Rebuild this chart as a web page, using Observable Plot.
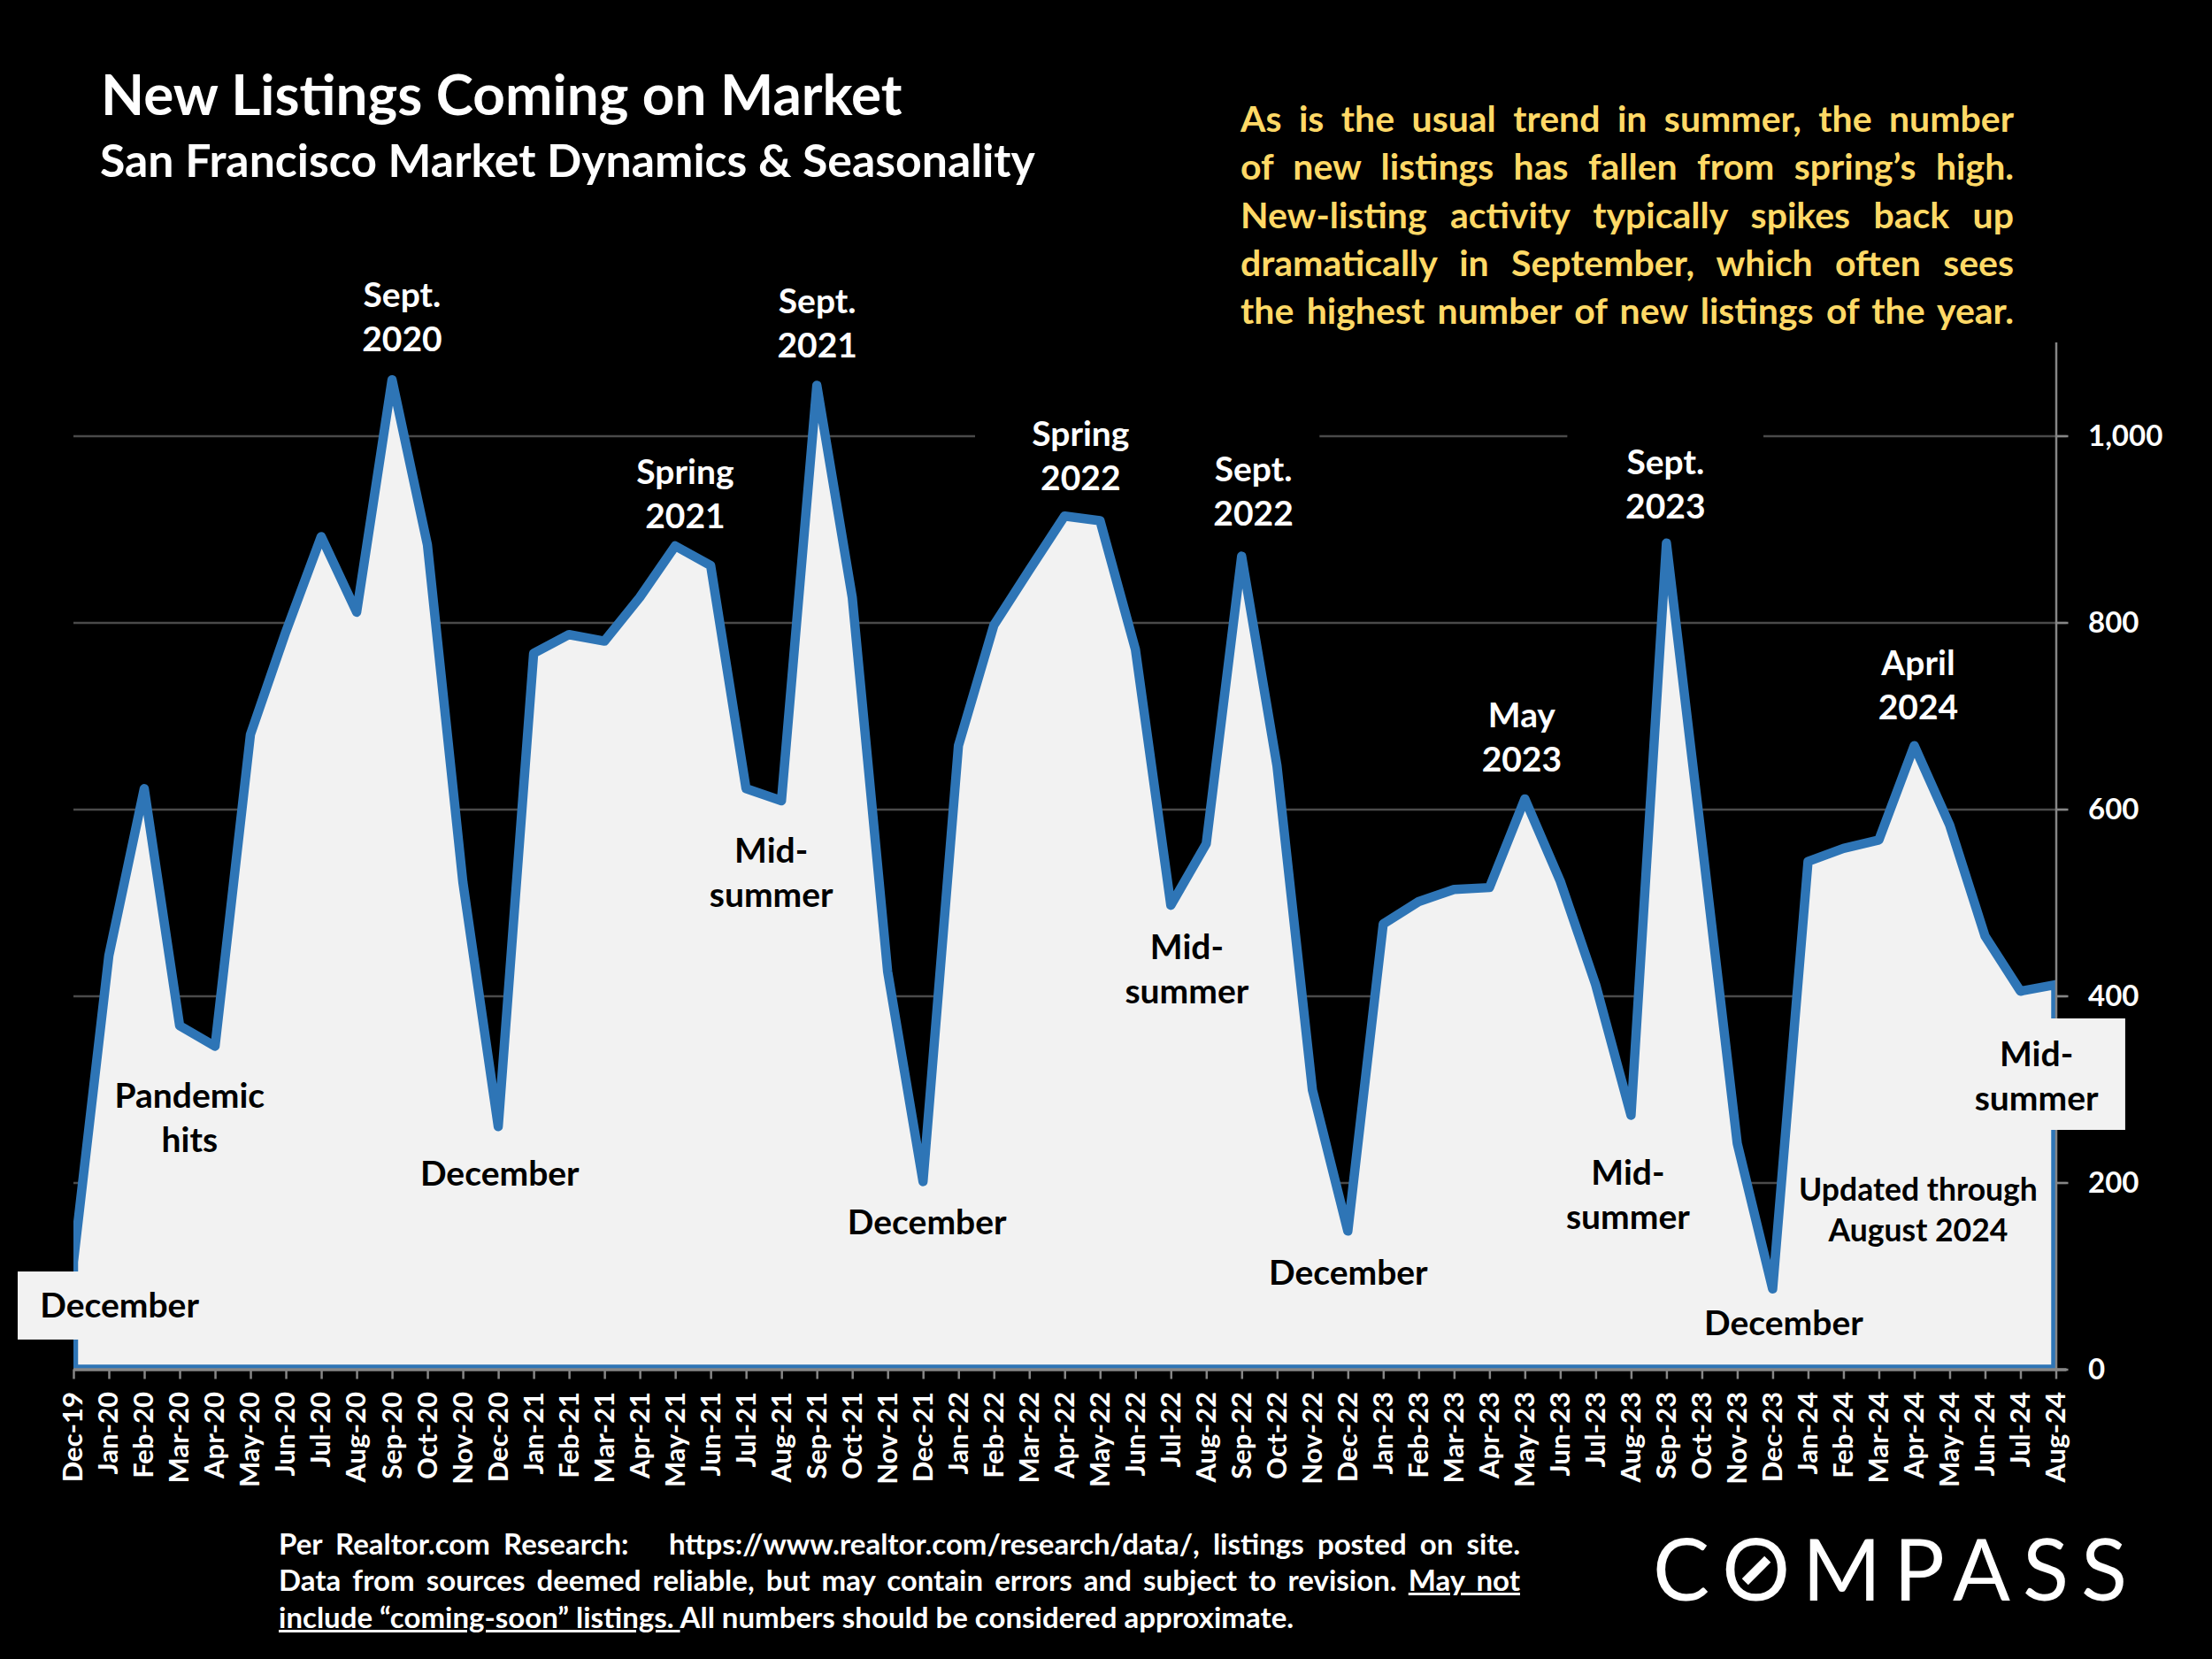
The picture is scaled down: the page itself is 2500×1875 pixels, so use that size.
<!DOCTYPE html>
<html>
<head>
<meta charset="utf-8">
<script src="https://cdn.jsdelivr.net/npm/d3@7"></script>
<script src="https://cdn.jsdelivr.net/npm/@observablehq/plot@0.6"></script>
<style>
  html, body { margin: 0; background: #000; }
  body { position: relative; width: 2500px; height: 1875px; overflow: hidden; font-family: Lato, sans-serif; font-weight: 700; color: #fff; }
  #chart { position: absolute; left: 0; top: 0; }
  .title { position: absolute; left: 114px; top: 68px; font-size: 63.8px; line-height: 76px; white-space: nowrap; }
  .subtitle { position: absolute; left: 113px; top: 149px; font-size: 51.8px; line-height: 62px; white-space: nowrap; }
  .note { position: absolute; left: 1402px; top: 107px; width: 874px; color: #ffd966; font-size: 41px; line-height: 54.3px; }
  .note div, .source div { text-align: justify; text-align-last: justify; }
  .source { position: absolute; left: 315px; top: 1724px; width: 1403px; font-size: 33px; line-height: 41.3px; }
  .source div.last { text-align-last: left; }
  .logo { position: absolute; left: 1868px; top: 1710px; font-size: 96px; line-height: 124px; font-weight: 400; letter-spacing: 14px; white-space: nowrap; }
  .logo .o { position: relative; display: inline-block; }
  .logo .o i { position: absolute; left: 50%; top: 50%; width: 36px; height: 10px; margin: -2px 0 0 -25px; background: #fff; transform: rotate(-45deg); }
</style>
</head>
<body>
<div id="chart"></div>
<div class="title">New Listings Coming on Market</div>
<div class="subtitle">San Francisco Market Dynamics &amp; Seasonality</div>
<div class="note">
  <div>As is the usual trend in summer, the number</div>
  <div>of new listings has fallen from spring’s high.</div>
  <div>New-listing activity typically spikes back up</div>
  <div>dramatically in September, which often sees</div>
  <div>the highest number of new listings of the year.</div>
</div>
<div class="source">
  <div>Per Realtor.com Research: &nbsp; https://www.realtor.com/research/data/, listings posted on site.</div>
  <div>Data from sources deemed reliable, but may contain errors and subject to revision. <u>May not</u></div>
  <div class="last"><u>include “coming-soon” listings. </u>All numbers should be considered approximate.</div>
</div>
<div class="logo">C<span class="o">O<i></i></span>MPASS</div>

<script>
const months = [
  "Dec-19",
  "Jan-20", "Feb-20", "Mar-20", "Apr-20", "May-20", "Jun-20", "Jul-20", "Aug-20", "Sep-20", "Oct-20", "Nov-20", "Dec-20",
  "Jan-21", "Feb-21", "Mar-21", "Apr-21", "May-21", "Jun-21", "Jul-21", "Aug-21", "Sep-21", "Oct-21", "Nov-21", "Dec-21",
  "Jan-22", "Feb-22", "Mar-22", "Apr-22", "May-22", "Jun-22", "Jul-22", "Aug-22", "Sep-22", "Oct-22", "Nov-22", "Dec-22",
  "Jan-23", "Feb-23", "Mar-23", "Apr-23", "May-23", "Jun-23", "Jul-23", "Aug-23", "Sep-23", "Oct-23", "Nov-23", "Dec-23",
  "Jan-24", "Feb-24", "Mar-24", "Apr-24", "May-24", "Jun-24", "Jul-24", "Aug-24"
];

const newListings = [
  115,
  443, 622, 368, 346, 680, 790, 892, 811, 1060, 883, 522, 260,
  767, 787, 780, 827, 882, 861, 622, 609, 1054, 827, 426, 201,
  668, 797, 856, 914, 909, 771, 497, 563, 871, 646, 299, 148,
  477, 501, 514, 516, 611, 523, 412, 272, 885, 566, 242, 86,
  544, 558, 567, 668, 583, 464, 405, 412
];

const yTicks = [0, 200, 400, 600, 800, 1000];

// labels over the black background, month index and value of the middle of the text
const peakText = ["Sept.\n2020", "Spring\n2021", "Sept.\n2021", "Spring\n2022", "Sept.\n2022", "May\n2023", "Sept.\n2023", "April\n2024"];
const peakMonth = [9.27, 17.27, 21, 28.44, 33.32, 40.9, 44.96, 52.1];
const peakValue = [1128, 938, 1121, 979, 941, 678, 949, 734];

// labels over the light area
const lowText = ["December", "Pandemic\nhits", "December", "Mid-\nsummer", "December", "Mid-\nsummer", "December", "Mid-\nsummer", "December", "Mid-\nsummer"];
const lowMonth = [1.29, 3.27, 12.03, 19.7, 24.1, 31.44, 36, 43.9, 48.3, 55.44];
const lowValue = [69, 270, 210, 533, 158, 429, 104, 188, 50, 315];

const updatedText = ["Updated through\nAugust 2024"];
const updatedMonth = [52.1];
const updatedValue = [171];

// the 1,000 gridline is interrupted by the label boxes
const topGridFrom = [0, 35.2, 47.74];
const topGridTo = [25.47, 42.2, 56.3];

// light boxes that stick out of the area
const boxFrom = [-1.575, 53.54];
const boxTo = [3.55, 57.96];
const boxLow = [31.8, 256.4];
const boxHigh = [104.7, 375.8];

const data = months.map((m, i) => ({i: i, month: m, value: newListings[i]}));
const labelFont = {fontWeight: 700, fontSize: 39, lineHeight: 1.28, textAnchor: "middle", dy: -2};

const chart = Plot.plot({
  width: 2500,
  height: 1875,
  marginTop: 387,
  marginBottom: 327.5,
  marginLeft: 83,
  marginRight: 176.5,
  style: {background: "#000", fontFamily: "Lato, sans-serif"},
  x: {domain: [0, 56], label: null},
  y: {domain: [0, 1100], label: null},
  marks: [
    Plot.ruleY([200, 400, 600, 800], {x1: 0, x2: 56.3, stroke: "#4a4a4a", strokeWidth: 2.5}),
    Plot.ruleY(topGridFrom.map((d, i) => i), {
      x1: i => topGridFrom[i], x2: i => topGridTo[i], y: () => 1000, stroke: "#4a4a4a", strokeWidth: 2.5
    }),
    Plot.areaY(data, {x: "i", y: "value", fill: "#f2f2f2", stroke: "#2e75b6", strokeWidth: 10.5, strokeLinejoin: "round", clip: true}),
    Plot.ruleX([56], {y1: 0, y2: 1100, stroke: "#868686", strokeWidth: 2.5}),
    Plot.ruleY([0], {x1: 0, x2: 56.3, stroke: "#868686", strokeWidth: 3.5}),
    Plot.axisX({
      ticks: d3.range(months.length), tickFormat: i => months[i], tickRotate: -90,
      tickSize: 11, tickPadding: 14, stroke: "#868686", strokeWidth: 2.5, fill: "#fff",
      fontWeight: 700, fontSize: 31, label: null
    }),
    Plot.axisY({
      anchor: "right", ticks: yTicks, tickFormat: d3.format(","),
      tickSize: 13, tickPadding: 23, stroke: "#868686", strokeWidth: 2.5, fill: "#fff",
      fontWeight: 700, fontSize: 33, label: null
    }),
    Plot.rect(boxFrom.map((d, i) => i), {
      x1: i => boxFrom[i], x2: i => boxTo[i], y1: i => boxLow[i], y2: i => boxHigh[i], fill: "#f2f2f2"
    }),
    Plot.text(peakText, {x: (d, i) => peakMonth[i], y: (d, i) => peakValue[i], text: d => d, fill: "#fff", ...labelFont}),
    Plot.text(lowText, {x: (d, i) => lowMonth[i], y: (d, i) => lowValue[i], text: d => d, fill: "#000", ...labelFont}),
    Plot.text(updatedText, {
      x: (d, i) => updatedMonth[i], y: (d, i) => updatedValue[i], text: d => d, fill: "#000",
      ...labelFont, fontSize: 35.5, lineHeight: 1.3
    })
  ]
});

d3.select("#chart").append(() => chart);
</script>
</body>
</html>
